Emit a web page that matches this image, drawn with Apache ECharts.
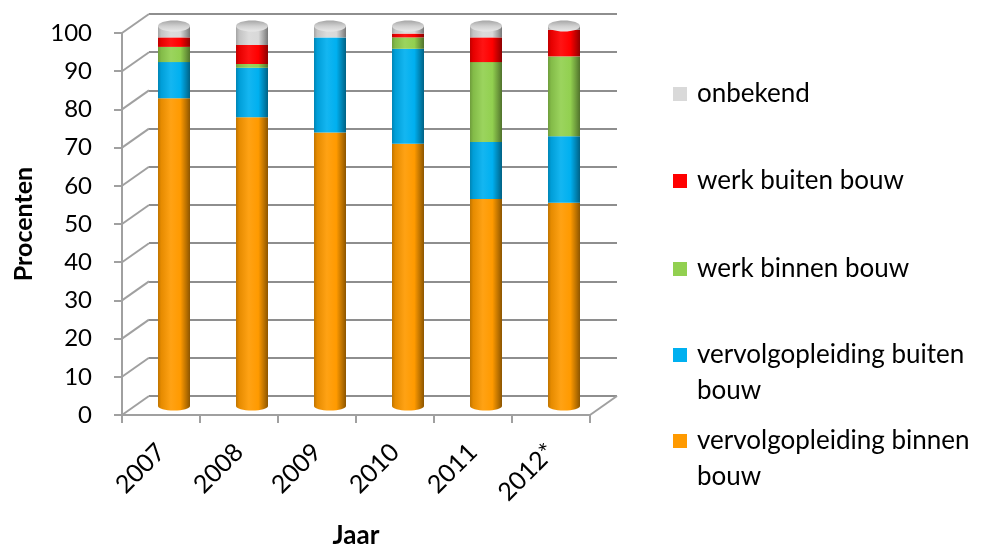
<!DOCTYPE html>
<html><head><meta charset="utf-8">
<script src="https://cdn.jsdelivr.net/npm/echarts@6/dist/echarts.min.js"></script>
<style>html,body{margin:0;padding:0;background:#fff}#c{width:986px;height:550px}</style>
</head><body><div id="c"></div>
<script>
// ---- data ----
const categories = ['2007', '2008', '2009', '2010', '2011', '2012*'];
const vervolgBinnen = [81, 76, 72, 69, 54.5, 53.5];
const vervolgBuiten = [9.5, 13, 25, 25, 15, 17.5];
const werkBinnen = [4, 1, 0, 3, 21, 21];
const werkBuiten = [2.5, 5, 0, 1, 6.5, 7];
const onbekend = [3, 5, 3, 2, 3, 1];
const yTicks = [0, 10, 20, 30, 40, 50, 60, 70, 80, 90, 100];
const seriesNames = ['vervolgopleiding binnen bouw', 'vervolgopleiding buiten bouw', 'werk binnen bouw', 'werk buiten bouw', 'onbekend'];
const seriesData = [vervolgBinnen, vervolgBuiten, werkBinnen, werkBuiten, onbekend];
const seriesColors = ['#FF9A00', '#00B0F0', '#92D050', '#FF0000', '#D9D9D9'];

// ---- helpers ----
function mix(hex, target, t) {
  const a = parseInt(hex.slice(1), 16), b = parseInt(target.slice(1), 16);
  const ch = (v, s) => (v >> s) & 255;
  const r = Math.round(ch(a,16) + (ch(b,16) - ch(a,16)) * t);
  const g = Math.round(ch(a,8) + (ch(b,8) - ch(a,8)) * t);
  const bl = Math.round(ch(a,0) + (ch(b,0) - ch(a,0)) * t);
  return '#' + ((1 << 24) + (r << 16) + (g << 8) + bl).toString(16).slice(1);
}
function cyl(hex) {
  return new echarts.graphic.LinearGradient(0, 0, 1, 0, [
    {offset: 0, color: mix(hex, '#000000', 0.25)},
    {offset: 0.1, color: mix(hex, '#000000', 0.1)},
    {offset: 0.4, color: mix(hex, '#ffffff', 0.08)},
    {offset: 0.7, color: hex},
    {offset: 0.87, color: mix(hex, '#000000', 0.25)},
    {offset: 1, color: mix(hex, '#000000', 0.45)}
  ]);
}
const totals = categories.map((c, i) => seriesData.reduce((s, arr) => s + arr[i], 0));

const DX = 27, DY = -19;
const FONT = 'Lato';
const gridColor = '#8E8E8E';
const axisColor = '#A0A0A0';

const legendPos = [
  {name: 'onbekend', top: 76, two: false},
  {name: 'werk buiten bouw', top: 163, two: false},
  {name: 'werk binnen bouw', top: 251, two: false},
  {name: 'vervolgopleiding buiten bouw', top: 301, two: true},
  {name: 'vervolgopleiding binnen bouw', top: 387, two: true}
];

const option = {
  animation: false,
  backgroundColor: '#ffffff',
  grid: [
    {left: 149, right: 369, top: 14, bottom: 154, outerBoundsMode: 'none', containLabel: false},   // back wall
    {left: 122, right: 396, top: 33, bottom: 135, outerBoundsMode: 'none', containLabel: false},   // front axes
    {left: 135, right: 383, top: 26, bottom: 144, outerBoundsMode: 'none', containLabel: false}    // bars (mid depth)
  ],
  xAxis: [
    {gridIndex: 0, type: 'category', data: categories, show: false},
    {gridIndex: 1, type: 'category', data: categories,
     axisLine: {lineStyle: {color: axisColor, width: 2}},
     axisTick: {show: true, length: 8, lineStyle: {color: axisColor, width: 2}},
     axisLabel: {rotate: 45, margin: 33, color: '#000', fontFamily: FONT, fontSize: 25},
     name: 'Jaar', nameLocation: 'middle', nameGap: 108, nameMoveOverlap: false,
     nameTextStyle: {color: '#000', fontFamily: FONT, fontSize: 26, fontWeight: 'bold'}},
    {gridIndex: 2, type: 'category', data: categories, show: false}
  ],
  yAxis: [
    {gridIndex: 0, type: 'value', min: 0, max: 100, interval: 10,
     axisLine: {show: false}, axisTick: {show: false}, axisLabel: {show: false},
     splitLine: {show: true, lineStyle: {color: gridColor, width: 2}}},
    {gridIndex: 1, type: 'value', min: 0, max: 100, interval: 10,
     axisLine: {show: true, lineStyle: {color: axisColor, width: 2}},
     axisTick: {show: true, length: 8, lineStyle: {color: axisColor, width: 2}},
     axisLabel: {margin: 30, color: '#000', fontFamily: FONT, fontSize: 24},
     splitLine: {show: false},
     name: 'Procenten', nameLocation: 'middle', nameGap: 86, nameRotate: 90, nameMoveOverlap: false,
     nameTextStyle: {color: '#000', fontFamily: FONT, fontSize: 25, fontWeight: 'bold'}},
    {gridIndex: 2, type: 'value', min: 0, max: 100, show: false, splitLine: {show: false}}
  ],
  legend: legendPos.map((lp, k) => ({
    data: [{name: lp.name, itemStyle: {color: seriesColors[seriesNames.indexOf(lp.name)]}}],
    left: 673, top: lp.top, orient: 'vertical', padding: 0,
    itemWidth: 14, itemHeight: 14, icon: 'rect', selectedMode: false,
    formatter: lp.two ? (n) => '\n' + n.replace(/ (bouw)$/, '\n$1') : undefined,
    textStyle: {fontFamily: FONT, fontSize: 26, color: '#000', lineHeight: 36, padding: [0, 0, 0, 5]}
  })),
  series: [
    // side wall diagonals + floor right edge
    {type: 'custom', xAxisIndex: 1, yAxisIndex: 1, silent: true, clip: false, z: 1,
     data: yTicks.map(v => [0, v]),
     renderItem(params, api) {
       const cs = params.coordSys;
       const y = api.coord([0, api.value(1)])[1];
       const st = {stroke: axisColor, lineWidth: 2};
       const ch = [{type: 'line', shape: {x1: cs.x, y1: y, x2: cs.x + DX, y2: y + DY}, style: st}];
       if (api.value(1) === 0) {
         ch.push({type: 'line', shape: {x1: cs.x + cs.width, y1: y, x2: cs.x + cs.width + DX, y2: y + DY}, style: st});
       }
       return {type: 'group', children: ch};
     }},
    // bottom ellipse of cylinders
    {type: 'custom', xAxisIndex: 2, yAxisIndex: 2, silent: true, clip: false, z: 2,
     data: categories.map((c, i) => [i, 0]),
     renderItem(params, api) {
       const p = api.coord([api.value(0), 0]);
       return {type: 'ellipse', shape: {cx: p[0], cy: p[1], rx: 16, ry: 4.5},
               style: {fill: cyl(seriesColors[0])}};
     }},
    ...seriesNames.map((n, k) => ({
      name: n, type: 'bar', stack: 'total', xAxisIndex: 2, yAxisIndex: 2,
      barWidth: 32, z: 3, data: seriesData[k],
      itemStyle: {color: cyl(seriesColors[k])}
    })),
    // top caps
    {type: 'custom', xAxisIndex: 2, yAxisIndex: 2, silent: true, clip: false, z: 4,
     data: categories.map((c, i) => [i, totals[i]]),
     renderItem(params, api) {
       const p = api.coord([api.value(0), api.value(1)]);
       return {type: 'ellipse', shape: {cx: p[0], cy: p[1], rx: 16, ry: 5.5},
               style: {fill: new echarts.graphic.LinearGradient(0, 0, 0, 1, [
                 {offset: 0, color: '#A6A6A6'}, {offset: 0.5, color: '#CFCFCF'}, {offset: 1, color: '#E8E8E8'}])}};
     }}
  ]
};

const chart = echarts.init(document.getElementById('c'), null, {renderer: 'canvas'});
chart.setOption(option);
</script></body></html>
